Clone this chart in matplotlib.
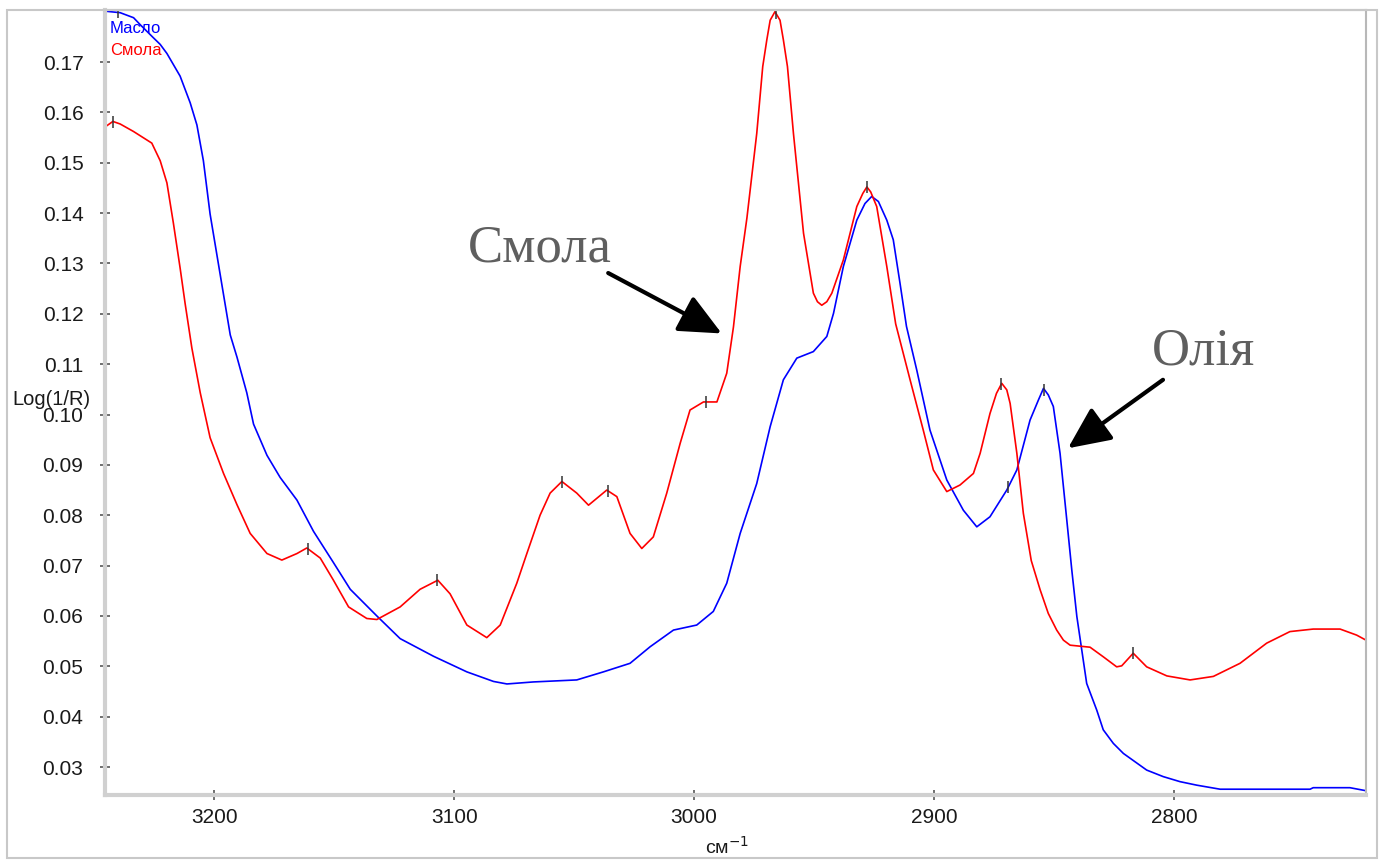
import numpy as np
import matplotlib
matplotlib.use("Agg")
from matplotlib import pyplot as plt
from matplotlib.patches import Rectangle

# NIR spectra: oil (Масло) vs resin (Смола)
oil_wn = [3245.5, 3239.2, 3233.6, 3230.8, 3225.3, 3222.5, 3219.7, 3214.2, 3210.0, 3207.2,
          3204.5, 3201.7, 3198.9, 3196.1, 3193.3, 3190.5, 3186.4, 3183.6, 3178.0, 3172.5,
          3165.5, 3158.6, 3150.3, 3143.3, 3132.2, 3122.5, 3108.6, 3094.7, 3083.6, 3078.0,
          3067.0, 3048.9, 3037.8, 3026.7, 3018.3, 3008.6, 2998.9, 2992.0, 2986.4, 2980.8,
          2973.9, 2968.3, 2962.8, 2957.2, 2950.3, 2944.7, 2941.9, 2937.8, 2932.2, 2928.8,
          2926.0, 2923.2, 2919.7, 2917.0, 2914.2, 2911.5, 2907.2, 2901.7, 2894.7, 2887.8,
          2882.2, 2876.7, 2869.7, 2865.5, 2860.0, 2856.5, 2854.4, 2852.4, 2850.3, 2847.5,
          2844.7, 2842.6, 2840.5, 2836.4, 2832.2, 2829.5, 2825.3, 2821.1, 2811.4, 2804.5,
          2797.5, 2790.5, 2780.8, 2743.3, 2742.0, 2726.7, 2720.0]
oil_val = [0.1801, 0.1798, 0.1788, 0.1774, 0.1748, 0.1735, 0.1717, 0.1672, 0.1619, 0.1575,
           0.1504, 0.1398, 0.1318, 0.1238, 0.1158, 0.1114, 0.1043, 0.0981, 0.0919, 0.0875,
           0.0830, 0.0768, 0.0706, 0.0653, 0.0600, 0.0555, 0.0520, 0.0489, 0.0470, 0.0465,
           0.0469, 0.0473, 0.0489, 0.0506, 0.0539, 0.0572, 0.0582, 0.0609, 0.0665, 0.0764,
           0.0863, 0.0976, 0.1069, 0.1112, 0.1125, 0.1155, 0.1201, 0.1294, 0.1386, 0.1419,
           0.1433, 0.1423, 0.1386, 0.1347, 0.1261, 0.1175, 0.1088, 0.0969, 0.0870, 0.0810,
           0.0777, 0.0797, 0.0850, 0.0890, 0.0989, 0.1029, 0.1052, 0.1039, 0.1016, 0.0923,
           0.0791, 0.0691, 0.0599, 0.0466, 0.0413, 0.0374, 0.0347, 0.0327, 0.0294, 0.0281,
           0.0271, 0.0264, 0.0256, 0.0256, 0.0259, 0.0259, 0.0253]

resin_wn = [3245.5, 3242.2, 3239.2, 3233.6, 3226.0, 3222.5, 3219.7, 3217.0, 3214.2, 3212.1,
            3209.3, 3205.8, 3201.7, 3196.1, 3190.5, 3185.0, 3178.0, 3171.8, 3165.5, 3161.4,
            3155.8, 3150.3, 3144.0, 3136.4, 3132.2, 3122.5, 3114.2, 3106.8, 3101.7, 3094.7,
            3086.4, 3080.8, 3073.9, 3069.7, 3064.2, 3060.0, 3055.1, 3048.9, 3044.0, 3036.4,
            3032.2, 3026.7, 3021.8, 3017.0, 3011.4, 3005.8, 3001.7, 2996.1, 2990.5, 2986.4,
            2983.6, 2980.8, 2978.0, 2973.9, 2971.4, 2969.7, 2968.3, 2966.3, 2964.2, 2962.8,
            2961.1, 2958.6, 2954.4, 2950.3, 2948.6, 2946.8, 2944.7, 2942.6, 2937.8, 2932.2,
            2929.7, 2928.0, 2926.4, 2923.9, 2919.7, 2916.0, 2910.0, 2904.5, 2900.3, 2894.7,
            2889.2, 2883.6, 2880.8, 2876.7, 2874.0, 2871.8, 2869.7, 2868.3, 2865.5, 2862.8,
            2859.5, 2855.8, 2852.4, 2848.9, 2846.1, 2843.3, 2835.0, 2829.5, 2823.9, 2821.8,
            2817.0, 2811.4, 2803.0, 2793.3, 2783.6, 2772.5, 2761.4, 2751.7, 2742.0, 2730.8,
            2723.9, 2720.0]
resin_val = [0.1571, 0.1582, 0.1577, 0.1562, 0.1539, 0.1504, 0.1460, 0.1380, 0.1291, 0.1220,
             0.1132, 0.1043, 0.0954, 0.0883, 0.0821, 0.0764, 0.0724, 0.0711, 0.0724, 0.0735,
             0.0715, 0.0671, 0.0618, 0.0595, 0.0593, 0.0618, 0.0653, 0.0671, 0.0644, 0.0582,
             0.0557, 0.0582, 0.0665, 0.0724, 0.0800, 0.0844, 0.0867, 0.0844, 0.0820, 0.0850,
             0.0837, 0.0764, 0.0734, 0.0757, 0.0844, 0.0943, 0.1009, 0.1025, 0.1025, 0.1082,
             0.1174, 0.1294, 0.1390, 0.1558, 0.1691, 0.1744, 0.1783, 0.1800, 0.1783, 0.1744,
             0.1691, 0.1558, 0.1360, 0.1241, 0.1224, 0.1217, 0.1224, 0.1241, 0.1307, 0.1413,
             0.1439, 0.1452, 0.1442, 0.1413, 0.1294, 0.1180, 0.1069, 0.0969, 0.0890, 0.0847,
             0.0860, 0.0883, 0.0923, 0.1002, 0.1042, 0.1062, 0.1049, 0.1022, 0.0923, 0.0804,
             0.0710, 0.0652, 0.0605, 0.0572, 0.0552, 0.0542, 0.0538, 0.0519, 0.0499, 0.0501,
             0.0526, 0.0499, 0.0481, 0.0473, 0.0480, 0.0506, 0.0546, 0.0569, 0.0574, 0.0574,
             0.0562, 0.0552]

# peak picks shown as small ticks on the curves
resin_peaks = [3242, 3161, 3107, 3055, 3036, 2995, 2966, 2928, 2872, 2817]
oil_peaks = [3240, 2869, 2854]

fig = plt.figure(figsize=(13.79, 8.61), dpi=100)
ax = fig.add_axes([105 / 1379, 66 / 861, 1261 / 1379, 785 / 861])

ax.plot(oil_wn, oil_val, color="#0000ff", lw=1.2)
ax.plot(resin_wn, resin_val, color="#ff0000", lw=1.2)

# peak tick marks
rp = np.interp(resin_peaks, resin_wn[::-1], resin_val[::-1])
op = np.interp(oil_peaks, oil_wn[::-1], oil_val[::-1])
ax.plot(resin_peaks, rp, ls="none", marker="|", ms=8, mew=1.1, color="#333333")
ax.plot(oil_peaks, op, ls="none", marker="|", ms=8, mew=1.1, color="#333333")

ax.set_xlim(3245.5, 2720)
ax.set_ylim(0.02445, 0.18033)

ax.set_xticks([3200, 3100, 3000, 2900, 2800])
ax.set_xticks(np.arange(2740, 3245, 20), minor=True)
ax.set_yticks(np.arange(0.03, 0.175, 0.01))
ax.set_yticks(np.arange(0.026, 0.18, 0.002), minor=True)
ax.set_yticklabels([f"{v:.2f}" for v in np.arange(0.03, 0.175, 0.01)])

for lbl in ax.get_xticklabels() + ax.get_yticklabels():
    lbl.set_fontfamily("Liberation Sans")
    lbl.set_fontsize(15)
    lbl.set_color("#1a1a1a")
ax.tick_params(axis="both", which="major", direction="inout", length=7, width=1.2,
               color="#555555")
ax.tick_params(axis="x", which="major", pad=6)
ax.tick_params(axis="y", which="major", pad=12)
ax.tick_params(axis="both", which="minor", direction="inout", length=3, width=1.2,
               color="#555555")

for side in ["left", "bottom"]:
    ax.spines[side].set_color("#d0d0d0")
    ax.spines[side].set_linewidth(3)
for side in ["top", "right"]:
    ax.spines[side].set_color("#b8b8b8")
    ax.spines[side].set_linewidth(1.5)

# legend as coloured text
ax.text(0.004, 0.976, "Масло", transform=ax.transAxes, color="#0000ff", fontsize=12,
        family="Liberation Sans", va="center", ha="left")
ax.text(0.004, 0.949, "Смола", transform=ax.transAxes, color="#ff0000", fontsize=12,
        family="Liberation Sans", va="center", ha="left")

# annotations
ax.annotate("", xy=(2988.5, 0.1161), xytext=(3035.8, 0.1281),
            arrowprops=dict(arrowstyle="-|>,head_length=1.3,head_width=0.6", lw=3,
                            color="black", mutation_scale=20, shrinkA=0, shrinkB=0))
ax.text(3064.2, 0.1330, "Смола", fontsize=38, family="Liberation Serif",
        color="#5f5f5f", ha="center", va="center")
ax.annotate("", xy=(2844.2, 0.0933), xytext=(2804.6, 0.1069),
            arrowprops=dict(arrowstyle="-|>,head_length=1.3,head_width=0.6", lw=3,
                            color="black", mutation_scale=20, shrinkA=0, shrinkB=0))
ax.text(2787.9, 0.1126, "Олія", fontsize=38, family="Liberation Serif",
        color="#5f5f5f", ha="center", va="center")

fig.text(12 / 1379, 1 - 400 / 861, "Log(1/R)", fontsize=14.5, family="Liberation Sans",
         color="#1a1a1a", ha="left", va="center")
fig.text(727 / 1379, 1 - 847 / 861, "см$^{-1}$", fontsize=14, family="Liberation Sans",
         color="#1a1a1a", ha="center", va="center")

# outer window frame
fig.patches.append(Rectangle((7 / 1379, 3 / 861), 1370 / 1379, 848 / 861,
                             transform=fig.transFigure, fill=False, ec="#c8c8c8", lw=1.5))

fig.savefig("out.png", dpi=100)
